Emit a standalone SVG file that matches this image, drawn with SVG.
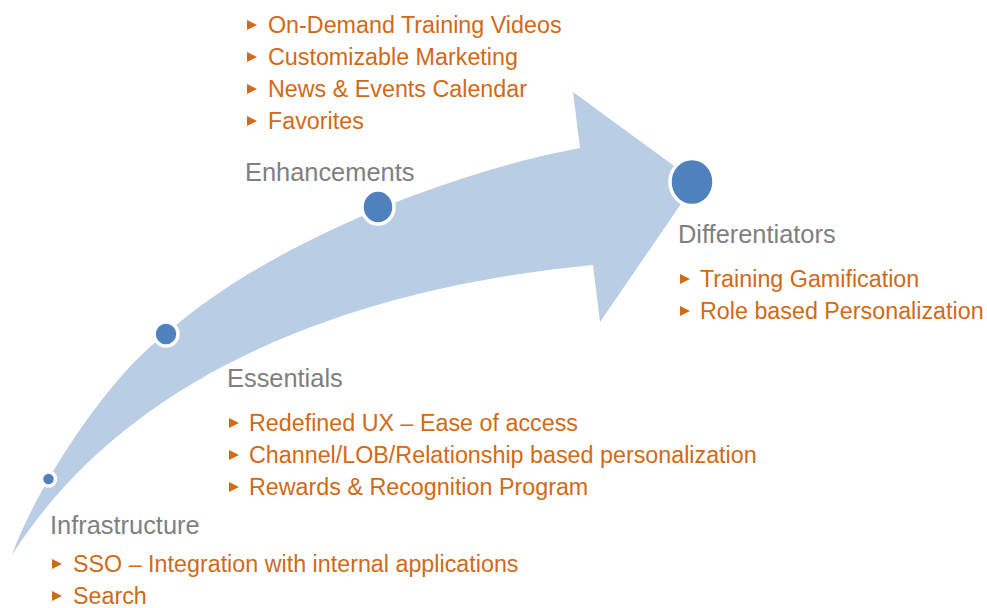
<svg xmlns="http://www.w3.org/2000/svg" xmlns:xlink="http://www.w3.org/1999/xlink" width="987" height="608" viewBox="0 0 987 608">
<style>
.hd{font-family:"Liberation Sans",Arial,sans-serif;font-size:25.4px;fill:#7f7f7f}
.it{font-family:"Liberation Sans",Arial,sans-serif;font-size:23.3px;fill:#d06a17}
.dot{fill:#4f81bd;stroke:#ffffff;stroke-width:3.5}
.bl{fill:#d06a17}
</style>
<defs>
<path id="b" d="M0,-5 L10,0 L0,5 Z"/>
</defs>
<rect width="987" height="608" fill="#ffffff"/>
<g id="connectors">
<path id="arrow" fill="#b9cde5" d="M12,555 C36,488 108,376 166,334 C266,244 450,172 580,148 L573,92 L696,182 L600,322 L593,265 C330,290 120,385 12,555 Z"/>
</g>
<g id="infrastructure">
<circle class="dot" cx="48.5" cy="479" r="7"/>
<text class="hd" x="50" y="534">Infrastructure</text>
<use xlink:href="#b" class="bl" x="52" y="564"/>
<text class="it" x="73" y="572">SSO – Integration with internal applications</text>
<use xlink:href="#b" class="bl" x="52" y="596"/>
<text class="it" x="73" y="604">Search</text>
</g>
<g id="essentials">
<ellipse class="dot" cx="166" cy="334" rx="12" ry="12"/>
<text class="hd" x="227" y="387">Essentials</text>
<use xlink:href="#b" class="bl" x="229" y="423"/>
<text class="it" x="249" y="431">Redefined UX – Ease of access</text>
<use xlink:href="#b" class="bl" x="229" y="455"/>
<text class="it" x="249" y="463">Channel/LOB/Relationship based personalization</text>
<use xlink:href="#b" class="bl" x="229" y="487"/>
<text class="it" x="249" y="495">Rewards &amp; Recognition Program</text>
</g>
<g id="enhancements">
<ellipse class="dot" cx="378" cy="207" rx="16" ry="17"/>
<text class="hd" x="245" y="181">Enhancements</text>
<use xlink:href="#b" class="bl" x="247" y="25"/>
<text class="it" x="268" y="33">On-Demand Training Videos</text>
<use xlink:href="#b" class="bl" x="247" y="57"/>
<text class="it" x="268" y="65">Customizable Marketing</text>
<use xlink:href="#b" class="bl" x="247" y="89"/>
<text class="it" x="268" y="97">News &amp; Events Calendar</text>
<use xlink:href="#b" class="bl" x="247" y="121"/>
<text class="it" x="268" y="129">Favorites</text>
</g>
<g id="differentiators">
<ellipse class="dot" cx="692" cy="182" rx="22" ry="23.5"/>
<text class="hd" x="678" y="243">Differentiators</text>
<use xlink:href="#b" class="bl" x="680" y="279"/>
<text class="it" x="700" y="287">Training Gamification</text>
<use xlink:href="#b" class="bl" x="680" y="311"/>
<text class="it" x="700" y="319">Role based Personalization</text>
</g>
</svg>
